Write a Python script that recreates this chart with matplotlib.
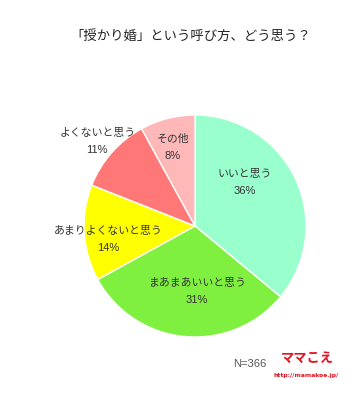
import matplotlib

matplotlib.use("Agg")
import matplotlib.pyplot as plt

plt.rcParams["font.family"] = ["Noto Sans CJK JP", "DejaVu Sans"]

title = "「授かり婚」という呼び方、どう思う？"
categories = ["いいと思う", "まあまあいいと思う", "あまりよくないと思う", "よくないと思う", "その他"]
percents = [36, 31, 14, 11, 8]
colors = ["#99FFCC", "#80F040", "#FFFF00", "#FF7777", "#FFB8B8"]
# label centres in pie units (radius = 1)
label_pos = [(0.45, 0.39), (0.02, -0.59), (-0.78, -0.12), (-0.88, 0.76), (-0.20, 0.71)]
n_label = "N=366"

W, H = 363, 400
fig = plt.figure(figsize=(W / 100, H / 100), dpi=100)
fig.patch.set_facecolor("white")

cx, cy, r = 195, 226, 111
ax = fig.add_axes([(cx - r) / W, (H - cy - r) / H, 2 * r / W, 2 * r / H])
wedges, _ = ax.pie(
    percents,
    colors=colors,
    startangle=90,
    counterclock=False,
    radius=1.0,
    wedgeprops={"edgecolor": "white", "linewidth": 1.0},
)
ax.set_xlim(-1, 1)
ax.set_ylim(-1, 1)
ax.set_aspect("equal")
ax.axis("off")

half = 8.5 / r
for cat, pct, (x, y) in zip(categories, percents, label_pos):
    ax.text(x, y + half, cat, ha="center", va="center", fontsize=7.8,
            color="#333333", clip_on=False)
    ax.text(x, y - half, f"{pct}%", ha="center", va="center", fontsize=8,
            color="#333333", clip_on=False, family=["Liberation Sans", "DejaVu Sans"])

fig.text(191 / W, 1 - 36 / H, title, ha="center", va="center", fontsize=9.6, color="#222222")
fig.text(250 / W, 1 - 364 / H, n_label, ha="center", va="center", fontsize=8, color="#555555",
         family=["Liberation Sans", "DejaVu Sans"])
fig.text(307 / W, 1 - 358 / H, "ママこえ", ha="center", va="center", fontsize=9.5,
         color="#E8101E", fontweight="bold")
fig.text(306 / W, 1 - 375 / H, "http://mamakoe.jp/", ha="center", va="center", fontsize=4.3,
         color="#E8101E", fontweight="bold", family=["DejaVu Sans"])

fig.savefig("out.png", dpi=100)
plt.close(fig)
